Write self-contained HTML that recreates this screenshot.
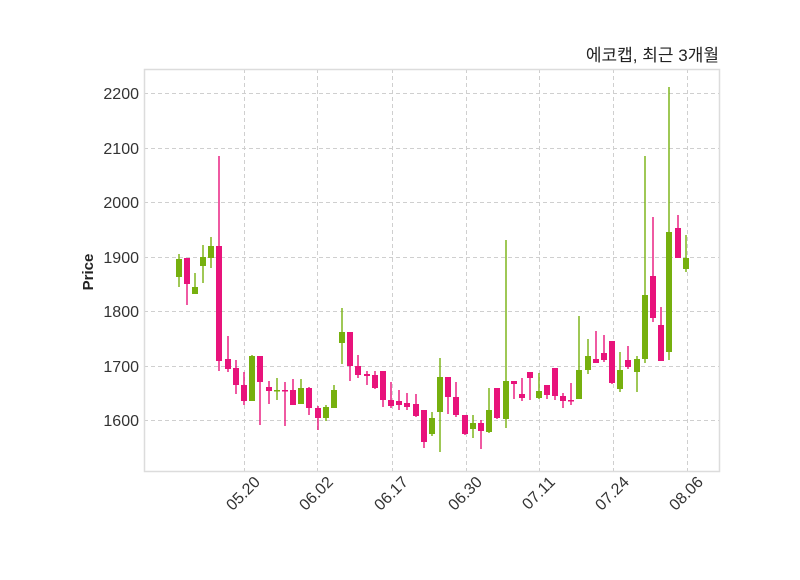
<!DOCTYPE html>
<html><head><meta charset="utf-8"><style>
body{margin:0;background:#fff;}
svg text{font-family:"Liberation Sans","Noto Sans CJK KR",sans-serif;}
</style></head><body>
<svg width="800" height="575" xmlns="http://www.w3.org/2000/svg">
<rect width="800" height="575" fill="#fff"/>
<g stroke="#cfcfcf" stroke-width="1" stroke-dasharray="4,3">
<line x1="144" x2="720" y1="93.5" y2="93.5"/><line x1="144" x2="720" y1="148.5" y2="148.5"/>
<line x1="144" x2="720" y1="202.5" y2="202.5"/><line x1="144" x2="720" y1="257.5" y2="257.5"/>
<line x1="144" x2="720" y1="311.5" y2="311.5"/><line x1="144" x2="720" y1="366.5" y2="366.5"/>
<line x1="144" x2="720" y1="420.5" y2="420.5"/>
<line y1="69" y2="471" x1="244.5" x2="244.5"/><line y1="69" y2="471" x1="317.5" x2="317.5"/>
<line y1="69" y2="471" x1="392.5" x2="392.5"/><line y1="69" y2="471" x1="466.5" x2="466.5"/>
<line y1="69" y2="471" x1="539.5" x2="539.5"/><line y1="69" y2="471" x1="613.5" x2="613.5"/>
<line y1="69" y2="471" x1="687.5" x2="687.5"/>
</g>
<rect x="144.5" y="69.5" width="575" height="402" fill="none" stroke="#dcdcdc" stroke-width="1.5"/>
<g font-size="16" fill="#333" text-anchor="end">
<text x="139" y="99">2200</text><text x="139" y="154">2100</text><text x="139" y="208">2000</text>
<text x="139" y="263">1900</text><text x="139" y="317">1800</text><text x="139" y="372">1700</text>
<text x="139" y="426">1600</text>
</g>
<g font-size="16" fill="#333" text-anchor="end">
<text transform="translate(261,483) rotate(-45)">05.20</text>
<text transform="translate(334,483) rotate(-45)">06.02</text>
<text transform="translate(409,483) rotate(-45)">06.17</text>
<text transform="translate(483,483) rotate(-45)">06.30</text>
<text transform="translate(556,483) rotate(-45)">07.11</text>
<text transform="translate(630,483) rotate(-45)">07.24</text>
<text transform="translate(704,483) rotate(-45)">08.06</text>
</g>
<text x="719" y="61" font-size="17" fill="#222" text-anchor="end">에코캡, 최근 3개월</text>
<text transform="translate(93,272) rotate(-90)" font-size="15" font-weight="bold" fill="#222" text-anchor="middle">Price</text>
<g stroke="#76b00e" stroke-width="1.4">
<line x1="179" x2="179" y1="254" y2="287"/><line x1="195" x2="195" y1="273" y2="294"/>
<line x1="203" x2="203" y1="245" y2="283"/><line x1="211" x2="211" y1="237" y2="268"/>
<line x1="252" x2="252" y1="355" y2="401"/><line x1="277" x2="277" y1="378" y2="400"/>
<line x1="301" x2="301" y1="379" y2="404"/><line x1="326" x2="326" y1="405" y2="421"/>
<line x1="334" x2="334" y1="385" y2="408"/><line x1="342" x2="342" y1="308" y2="364"/>
<line x1="432" x2="432" y1="412" y2="436"/><line x1="440" x2="440" y1="358" y2="452"/>
<line x1="473" x2="473" y1="415" y2="438"/><line x1="489" x2="489" y1="388" y2="433"/>
<line x1="506" x2="506" y1="240" y2="428"/><line x1="539" x2="539" y1="373" y2="399"/>
<line x1="579" x2="579" y1="316" y2="399"/><line x1="588" x2="588" y1="339" y2="374"/>
<line x1="620" x2="620" y1="352" y2="392"/><line x1="637" x2="637" y1="356" y2="392"/>
<line x1="645" x2="645" y1="156" y2="363"/><line x1="669" x2="669" y1="87" y2="360"/>
<line x1="686" x2="686" y1="235" y2="272"/>
</g>
<g fill="#76b00e">
<rect x="176" y="259" width="6" height="18"/><rect x="192" y="287" width="6" height="7"/>
<rect x="200" y="257" width="6" height="9"/><rect x="208" y="246" width="6" height="12"/>
<rect x="249" y="356" width="6" height="45"/><rect x="274" y="390" width="6" height="1.5"/>
<rect x="298" y="388" width="6" height="16"/><rect x="323" y="407" width="6" height="11"/>
<rect x="331" y="390" width="6" height="18"/><rect x="339" y="332" width="6" height="11"/>
<rect x="429" y="418" width="6" height="16"/><rect x="437" y="377" width="6" height="35"/>
<rect x="470" y="423" width="6" height="6"/><rect x="486" y="410" width="6" height="22"/>
<rect x="503" y="381" width="6" height="38"/><rect x="536" y="391" width="6" height="7"/>
<rect x="576" y="370" width="6" height="29"/><rect x="585" y="356" width="6" height="14"/>
<rect x="617" y="370" width="6" height="19"/><rect x="634" y="359" width="6" height="13"/>
<rect x="642" y="295" width="6" height="64"/><rect x="666" y="232" width="6" height="120"/>
<rect x="683" y="258" width="6" height="11"/>
</g>
<g stroke="#e8137b" stroke-width="1.4">
<line x1="187" x2="187" y1="258" y2="305"/><line x1="219" x2="219" y1="156" y2="371"/>
<line x1="228" x2="228" y1="336" y2="372"/><line x1="236" x2="236" y1="360" y2="394"/>
<line x1="244" x2="244" y1="372" y2="405"/><line x1="260" x2="260" y1="356" y2="425"/>
<line x1="269" x2="269" y1="381" y2="404"/><line x1="285" x2="285" y1="382" y2="426"/>
<line x1="293" x2="293" y1="379" y2="405"/><line x1="309" x2="309" y1="387" y2="415"/>
<line x1="318" x2="318" y1="406" y2="430"/><line x1="350" x2="350" y1="332" y2="381"/>
<line x1="358" x2="358" y1="355" y2="378"/><line x1="367" x2="367" y1="371" y2="385"/>
<line x1="375" x2="375" y1="371" y2="389"/><line x1="383" x2="383" y1="371" y2="407"/>
<line x1="391" x2="391" y1="382" y2="408"/><line x1="399" x2="399" y1="390" y2="410"/>
<line x1="407" x2="407" y1="393" y2="410"/><line x1="416" x2="416" y1="394" y2="417"/>
<line x1="424" x2="424" y1="410" y2="448"/><line x1="448" x2="448" y1="377" y2="414"/>
<line x1="456" x2="456" y1="382" y2="417"/><line x1="465" x2="465" y1="415" y2="435"/>
<line x1="481" x2="481" y1="420" y2="449"/><line x1="497" x2="497" y1="388" y2="419"/>
<line x1="514" x2="514" y1="381" y2="399"/><line x1="522" x2="522" y1="378" y2="401"/>
<line x1="530" x2="530" y1="372" y2="400"/><line x1="547" x2="547" y1="385" y2="399"/>
<line x1="555" x2="555" y1="368" y2="400"/><line x1="563" x2="563" y1="393" y2="408"/>
<line x1="571" x2="571" y1="383" y2="405"/><line x1="596" x2="596" y1="331" y2="363"/>
<line x1="604" x2="604" y1="335" y2="362"/><line x1="612" x2="612" y1="341" y2="384"/>
<line x1="628" x2="628" y1="346" y2="369"/><line x1="653" x2="653" y1="217" y2="322"/>
<line x1="661" x2="661" y1="307" y2="361"/><line x1="678" x2="678" y1="215" y2="258"/>
</g>
<g fill="#e8137b">
<rect x="184" y="258" width="6" height="26"/><rect x="216" y="246" width="6" height="115"/>
<rect x="225" y="359" width="6" height="10"/><rect x="233" y="368" width="6" height="17"/>
<rect x="241" y="385" width="6" height="16"/><rect x="257" y="356" width="6" height="26"/>
<rect x="266" y="387" width="6" height="4"/><rect x="282" y="390" width="6" height="1.5"/>
<rect x="290" y="390" width="6" height="15"/><rect x="306" y="388" width="6" height="20"/>
<rect x="315" y="408" width="6" height="10"/><rect x="347" y="332" width="6" height="34"/>
<rect x="355" y="366" width="6" height="9"/><rect x="364" y="374" width="6" height="2"/>
<rect x="372" y="375" width="6" height="13"/><rect x="380" y="371" width="6" height="29"/>
<rect x="388" y="400" width="6" height="6"/><rect x="396" y="401" width="6" height="4"/>
<rect x="404" y="403" width="6" height="4"/><rect x="413" y="404" width="6" height="12"/>
<rect x="421" y="410" width="6" height="32"/><rect x="445" y="377" width="6" height="20"/>
<rect x="453" y="397" width="6" height="18"/><rect x="462" y="415" width="6" height="19"/>
<rect x="478" y="423" width="6" height="8"/><rect x="494" y="388" width="6" height="30"/>
<rect x="511" y="381" width="6" height="3"/><rect x="519" y="394" width="6" height="4"/>
<rect x="527" y="372" width="6" height="6"/><rect x="544" y="385" width="6" height="10"/>
<rect x="552" y="368" width="6" height="28"/><rect x="560" y="396" width="6" height="5"/>
<rect x="568" y="400" width="6" height="1.5"/><rect x="593" y="359" width="6" height="4"/>
<rect x="601" y="353" width="6" height="7"/><rect x="609" y="341" width="6" height="42"/>
<rect x="625" y="360" width="6" height="7"/><rect x="650" y="276" width="6" height="42"/>
<rect x="658" y="325" width="6" height="36"/><rect x="675" y="228" width="6" height="30"/>
</g>
</svg>
</body></html>
